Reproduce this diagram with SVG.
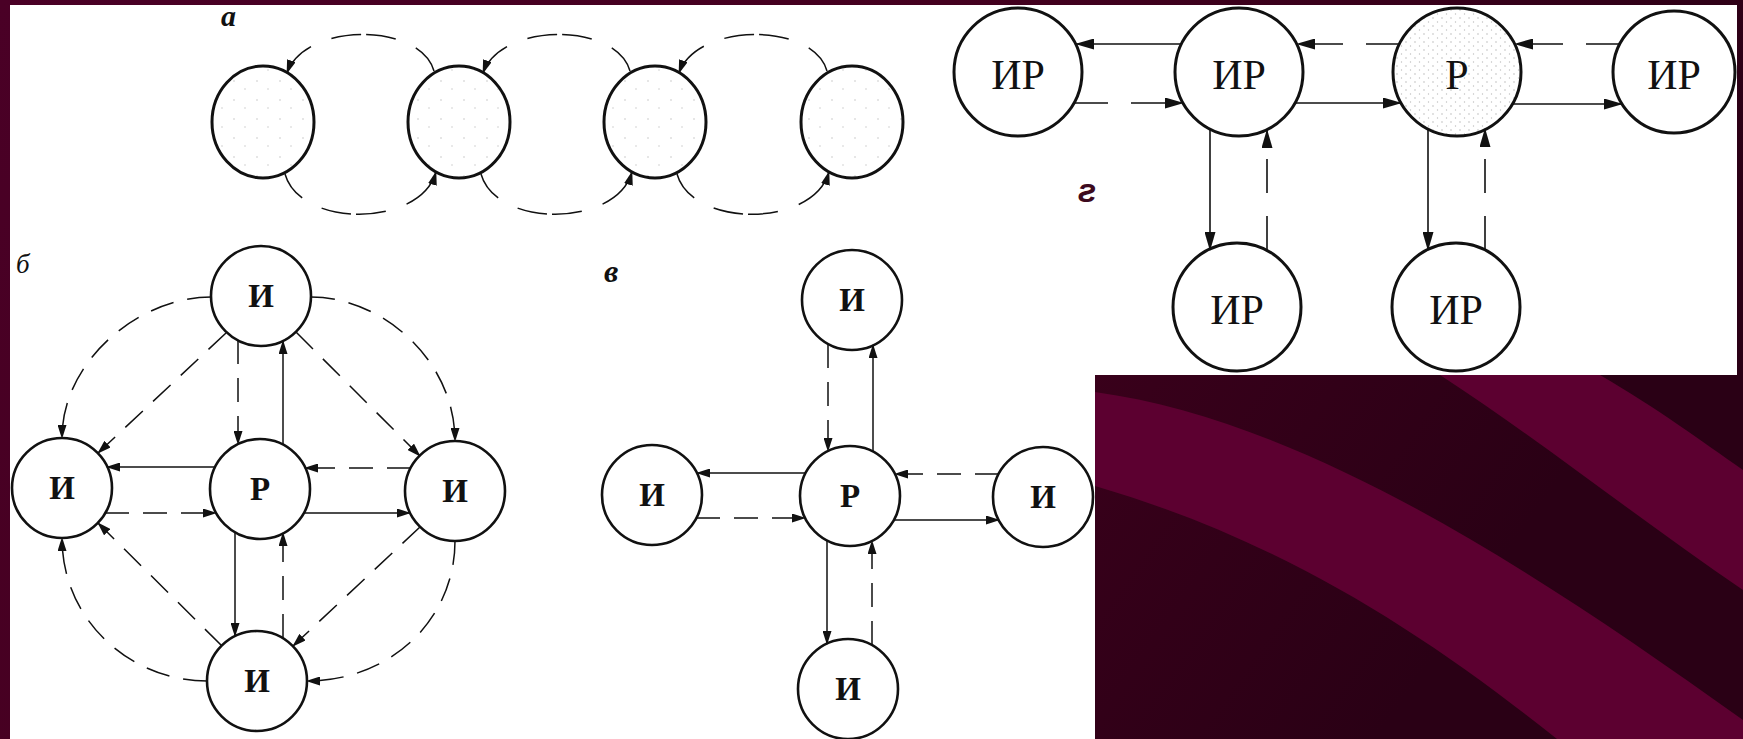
<svg xmlns="http://www.w3.org/2000/svg" width="1743" height="739" viewBox="0 0 1743 739">
<style>
.bg{fill:url(#bgg)}
.wh{fill:#ffffff}
.n{fill:#ffffff;stroke:#111;stroke-width:2.6}
.ng{fill:#ffffff;stroke:#111;stroke-width:3}
.na{fill:url(#st);stroke:#111;stroke-width:3}
.c{fill:none;stroke:#111;stroke-width:1.5;marker-end:url(#ah)}
.cg{fill:none;stroke:#111;stroke-width:1.6;marker-end:url(#ahg)}
.d{stroke-dasharray:24 14}
.dg{stroke-dasharray:34 23}
.da{stroke-dasharray:30 22 30 5 30 22 90}
.t{font-family:"Liberation Serif","Times New Roman",serif;font-weight:bold;font-size:33px;text-anchor:middle;fill:#111}
.tg{font-family:"Liberation Serif","Times New Roman",serif;font-size:42px;text-anchor:middle;fill:#111}
.lb{font-family:"Liberation Serif","Times New Roman",serif;font-style:italic;fill:#111}
</style>
<defs>
<linearGradient id="bgg" x1="0" y1="0" x2="1" y2="0.3">
<stop offset="0" stop-color="#4a0026"/>
<stop offset="0.5" stop-color="#44001f"/>
<stop offset="1" stop-color="#2a0015"/>
</linearGradient>
<pattern id="st" width="23" height="19" patternUnits="userSpaceOnUse">
<rect width="23" height="19" fill="#fff"/>
<circle cx="4" cy="5" r="0.7" fill="#bbb"/>
<circle cx="15" cy="13" r="0.7" fill="#c4c4c4"/>
</pattern>
<pattern id="st2" width="9" height="8" patternUnits="userSpaceOnUse">
<rect width="9" height="8" fill="#fff"/>
<circle cx="2" cy="2" r="0.7" fill="#b0b0b0"/>
<circle cx="6.5" cy="6" r="0.7" fill="#c0c0c0"/>
</pattern>
<marker id="ah" markerUnits="userSpaceOnUse" markerWidth="14" markerHeight="9" refX="13" refY="4.5" orient="auto">
<path d="M0,0 L14,4.5 L0,9 Z" fill="#111"/>
</marker>
<marker id="ahg" markerUnits="userSpaceOnUse" markerWidth="19" markerHeight="11" refX="18" refY="5.5" orient="auto">
<path d="M0,0 L19,5.5 L0,11 Z" fill="#111"/>
</marker>
</defs>

<g id="background">
<rect class="bg" x="0" y="0" width="1743" height="739"/>
<path d="M1440,375 L1600,375 C1660,410 1700,440 1743,470 L1743,590 C1640,520 1540,440 1440,375 Z" fill="#5c0030"/>
<path d="M1095,392 C1300,420 1520,560 1743,720 L1743,739 L1557,739 C1420,630 1280,540 1095,486 Z" fill="#5c0030"/>
<path d="M10,5 L1737,5 L1737,375 L1095,375 L1095,739 L10,739 Z" class="wh"/>
</g>

<g id="labels">
<text class="lb" x="221" y="26" font-size="30" font-weight="bold">а</text>
<text class="lb" x="16" y="273" font-size="27">б</text>
<text class="lb" x="604" y="282" font-size="32" font-weight="bold">в</text>
<text x="1087" y="202" font-family="'Liberation Sans',Arial,sans-serif" font-style="italic" font-weight="bold" font-size="34" fill="#3d0a1e" text-anchor="middle">г</text>
</g>

<g id="diagram-a">
<g id="a1"><ellipse class="na" cx="263" cy="122" rx="51" ry="56"/></g>
<g id="a2"><ellipse class="na" cx="459" cy="122" rx="51" ry="56"/></g>
<g id="a3"><ellipse class="na" cx="655" cy="122" rx="51" ry="56"/></g>
<g id="a4"><ellipse class="na" cx="852" cy="122" rx="51" ry="56"/></g>
</g>

<g id="diagram-b">
<g id="b-top"><circle class="n" cx="261" cy="296" r="50"/><text class="t" x="261" y="307">И</text></g>
<g id="b-left"><circle class="n" cx="62" cy="488" r="50"/><text class="t" x="62" y="499">И</text></g>
<g id="b-center"><circle class="n" cx="260" cy="489" r="50"/><text class="t" x="260" y="500">Р</text></g>
<g id="b-right"><circle class="n" cx="455" cy="491" r="50"/><text class="t" x="455" y="502">И</text></g>
<g id="b-bottom"><circle class="n" cx="257" cy="681" r="50"/><text class="t" x="257" y="692">И</text></g>
</g>

<g id="diagram-v">
<g id="v-top"><circle class="n" cx="852" cy="300" r="50"/><text class="t" x="852" y="311">И</text></g>
<g id="v-left"><circle class="n" cx="652" cy="495" r="50"/><text class="t" x="652" y="506">И</text></g>
<g id="v-center"><circle class="n" cx="850" cy="496" r="50"/><text class="t" x="850" y="507">Р</text></g>
<g id="v-right"><circle class="n" cx="1043" cy="497" r="50"/><text class="t" x="1043" y="508">И</text></g>
<g id="v-bottom"><circle class="n" cx="848" cy="689" r="50"/><text class="t" x="848" y="700">И</text></g>
</g>

<g id="diagram-g">
<g id="g-ir1"><circle class="ng" cx="1018" cy="72" r="64"/><text class="tg" x="1018" y="89">ИР</text></g>
<g id="g-ir2"><circle class="ng" cx="1239" cy="72" r="64"/><text class="tg" x="1239" y="89">ИР</text></g>
<g id="g-p"><circle class="ng" cx="1457" cy="72" r="64" style="fill:url(#st2)"/><text class="tg" x="1457" y="89">Р</text></g>
<g id="g-ir4"><circle class="ng" cx="1674" cy="72" r="61"/><text class="tg" x="1674" y="89">ИР</text></g>
<g id="g-ir5"><circle class="ng" cx="1237" cy="307" r="64"/><text class="tg" x="1237" y="324">ИР</text></g>
<g id="g-ir6"><circle class="ng" cx="1456" cy="307" r="64"/><text class="tg" x="1456" y="324">ИР</text></g>
</g>

<g id="connectors">
<path class="c da" d="M434,71 C420,22 305,22 287,73"/>
<path class="c da" d="M630,71 C616,22 501,22 483,73"/>
<path class="c da" d="M827,71 C813,22 697,22 679,73"/>
<path class="c da" d="M285,174 C300,228 420,228 436,172"/>
<path class="c da" d="M481,174 C496,228 616,228 632,172"/>
<path class="c da" d="M677,174 C692,228 813,228 829,172"/>
<path class="c d" d="M238,340 L238,444"/>
<path class="c" d="M283,444 L283,341"/>
<path class="c" d="M215,467 L107,467"/>
<path class="c d" d="M105,513 L216,513"/>
<path class="c d" d="M411,468 L305,468"/>
<path class="c" d="M304,513 L410,513"/>
<path class="c" d="M235,532 L235,636"/>
<path class="c d" d="M283,638 L283,533"/>
<path class="c d" d="M226,333 L98,453"/>
<path class="c d" d="M296,332 L420,456"/>
<path class="c d" d="M420,527 L293,646"/>
<path class="c d" d="M222,646 L98,523"/>
<path class="c d" d="M211,297 C140,297 62,360 62,438"/>
<path class="c d" d="M311,297 C382,297 455,360 455,441"/>
<path class="c d" d="M455,541 C455,620 390,681 307,681"/>
<path class="c d" d="M207,681 C130,681 62,620 62,538"/>
<path class="c d" d="M828,344 L828,451"/>
<path class="c" d="M873,451 L873,345"/>
<path class="c" d="M806,473 L697,473"/>
<path class="c d" d="M696,518 L805,518"/>
<path class="c d" d="M999,474 L895,474"/>
<path class="c" d="M894,520 L999,520"/>
<path class="c" d="M827,540 L827,644"/>
<path class="c d" d="M872,645 L872,541"/>
<path class="cg" d="M1182,44 L1076,44"/>
<path class="cg dg" d="M1074,103 L1183,103"/>
<path class="cg dg" d="M1400,44 L1297,44"/>
<path class="cg" d="M1295,103 L1401,103"/>
<path class="cg dg" d="M1620,44 L1515,44"/>
<path class="cg" d="M1513,104 L1622,104"/>
<path class="cg" d="M1210,129 L1210,250"/>
<path class="cg dg" d="M1267,250 L1267,130"/>
<path class="cg" d="M1428,129 L1428,250"/>
<path class="cg dg" d="M1485,250 L1485,129"/>
</g>
</svg>
